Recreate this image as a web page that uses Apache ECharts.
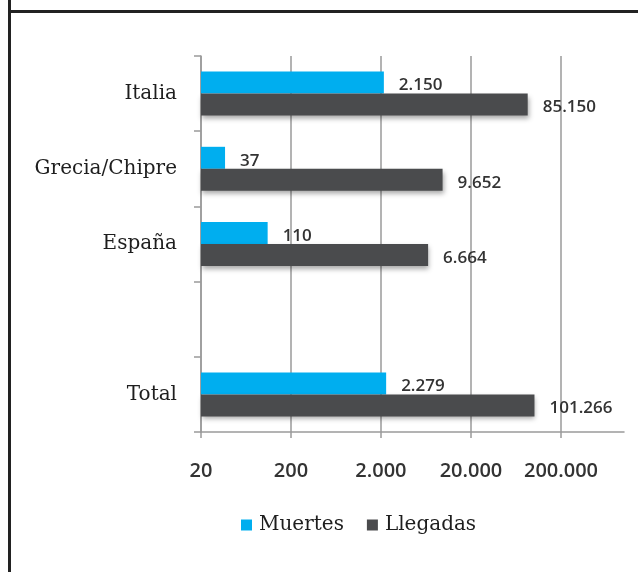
<!DOCTYPE html>
<html>
<head>
<meta charset="utf-8">
<script src="https://cdn.jsdelivr.net/npm/echarts@6/dist/echarts.min.js"></script>
<style>
html,body{margin:0;padding:0;background:#fff;}
#c{width:638px;height:572px;}
</style>
</head>
<body>
<div id="c"></div>
<script>
var categories = ['Italia', 'Grecia/Chipre', 'España', '', 'Total'];
var muertes = [2150, 37, 110, null, 2279];
var llegadas = [85150, 9652, 6664, null, 101266];
var seriesNames = ['Muertes', 'Llegadas'];
var axisMin = 20;
var axisMax = 1000000;

function fmt(v) {
  return String(Math.round(v)).replace(/\B(?=(\d{3})+(?!\d))/g, '.');
}
function fmtTick(v) {
  var p = Math.pow(10, Math.floor(Math.log10(v)));
  return fmt(Math.round(v / p) * p);
}

var chart = echarts.init(document.getElementById('c'), null, {renderer: 'canvas'});
var labelStyle = {
  show: true,
  position: 'right',
  distance: 15,
  color: '#333',
  fontFamily: 'Open Sans',
  fontWeight: 600,
  fontSize: 17,
  offset: [0, 3],
  formatter: function (p) { return fmt(p.value); }
};
chart.setOption({
  animation: false,
  backgroundColor: '#fff',
  grid: {left: 201, right: 14, top: 56, bottom: 140, containLabel: false},
  legend: {
    data: seriesNames,
    bottom: 32,
    left: 236,
    icon: 'rect',
    itemWidth: 11,
    itemHeight: 11,
    itemGap: 23,
    textStyle: {fontFamily: 'DejaVu Serif', fontSize: 20, color: '#1e1e1e', padding: [0, 0, 0, 2]}
  },
  xAxis: {
    type: 'log',
    logBase: 10,
    min: axisMin,
    max: axisMax,
    interval: 1,
    axisLine: {show: true, lineStyle: {color: '#9a9a9a', width: 1.5}},
    axisTick: {show: true, length: 6, lineStyle: {color: '#9a9a9a', width: 1.5}},
    splitLine: {show: true, showMaxLine: false, lineStyle: {color: '#9a9a9a', width: 1.5}},
    axisLabel: {
      margin: 29,
      showMaxLabel: false,
      color: '#333',
      fontFamily: 'Open Sans',
      fontWeight: 600,
      fontSize: 20,
      formatter: function (v) { return fmtTick(v); }
    }
  },
  yAxis: {
    type: 'category',
    inverse: true,
    data: categories,
    axisLine: {show: true, lineStyle: {color: '#9a9a9a', width: 1.5}},
    axisTick: {show: true, length: 7, alignWithLabel: false, lineStyle: {color: '#9a9a9a', width: 1.5}},
    axisLabel: {
      margin: 24,
      color: '#1e1e1e',
      fontFamily: 'DejaVu Serif',
      fontSize: 20,
      padding: [8, 0, 0, 0]
    }
  },
  series: [
    {
      name: seriesNames[0],
      type: 'bar',
      data: muertes,
      barWidth: 22,
      barGap: '0%',
      itemStyle: {color: '#00aeef'},
      label: labelStyle
    },
    {
      name: seriesNames[1],
      type: 'bar',
      data: llegadas,
      barWidth: 22,
      barGap: '0%',
      itemStyle: {
        color: '#4a4b4d',
        shadowColor: 'rgba(0,0,0,0.35)',
        shadowBlur: 5,
        shadowOffsetY: 3,
        shadowOffsetX: 1
      },
      label: labelStyle
    }
  ],
  graphic: [
    {type: 'rect', shape: {x: 8, y: 0, width: 3, height: 572}, style: {fill: '#222'}, silent: true},
    {type: 'rect', shape: {x: 8, y: 10, width: 630, height: 3}, style: {fill: '#222'}, silent: true}
  ]
});
</script>
</body>
</html>
